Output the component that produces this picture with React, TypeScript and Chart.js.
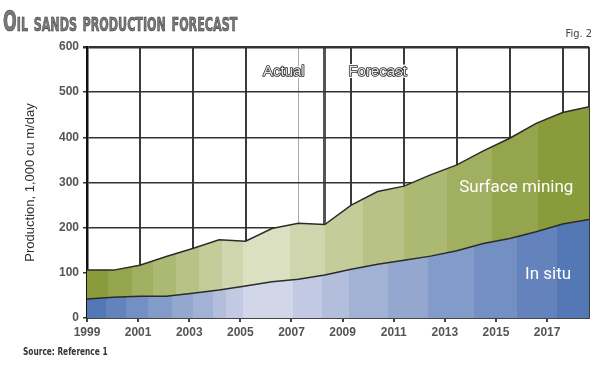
import React, { useEffect, useRef } from 'react';
import { Chart, registerables } from 'chart.js';

Chart.register(...registerables);

// ---- data ----
const years = [1999, 2000, 2001, 2002, 2003, 2004, 2005, 2006, 2007, 2008, 2009, 2010, 2011, 2012, 2013, 2014, 2015, 2016, 2017, 2018];
const inSitu = [42, 46, 48, 48, 55, 62, 71, 80, 86, 95, 108, 119, 128, 137, 149, 165, 176, 191, 208, 218];
const surfaceMining = [64, 60, 69, 88, 99, 111, 99, 118, 124, 112, 142, 161, 164, 180, 190, 205, 222, 240, 247, 250];
const xTickLabels = [1999, 2001, 2003, 2005, 2007, 2009, 2011, 2013, 2015, 2017];
const gridYears = [1999, 2001, 2003, 2005, 2007, 2008, 2009, 2011, 2013, 2015, 2017, 2018];
const lastActualGrid = 2007;
const forecastStart = 2008;
const yMax = 600;
const yStep = 100;

// text annotations (anchored in data coordinates)
const notes = [
  { text: 'Actual', x: 2006.45, y: 545, kind: 'outline' },
  { text: 'Forecast', x: 2010.0, y: 545, kind: 'outline' },
  { text: 'Surface mining', x: 2015.25, y: 288, kind: 'white' },
  { text: 'In situ', x: 2016.45, y: 95, kind: 'white' },
];

// ---- styles ----
const greenEdges = [0.042, 0.09, 0.131, 0.177, 0.223, 0.269, 0.311, 0.404, 0.474, 0.55, 0.631, 0.717, 0.807, 0.898];
const greenPeak = 7;
const greenDark = [137, 155, 58];
const greenLight = [219, 224, 192];
const blueEdges = [0.038, 0.078, 0.122, 0.169, 0.211, 0.251, 0.277, 0.311, 0.41, 0.468, 0.522, 0.6, 0.679, 0.771, 0.857, 0.936];
const bluePeak = 8;
const blueDark = [84, 119, 182];
const blueLight = [209, 214, 232];

function mix(a: number[], b: number[], t: number) {
  const c = a.map((v, i) => Math.round(v + (b[i] - v) * t));
  return `rgb(${c[0]},${c[1]},${c[2]})`;
}

function bandFill(edges: number[], peak: number, dark: number[], light: number[]) {
  return (context: any) => {
    const chart = context.chart;
    const area = chart.chartArea;
    if (!area) return 'rgba(0,0,0,0)';
    const g = chart.ctx.createLinearGradient(area.left, 0, area.right, 0);
    const n = edges.length + 1;
    for (let b = 0; b < n; b++) {
      const t = b <= peak ? b / peak : (n - 1 - b) / (n - 1 - peak);
      const col = mix(dark, light, t);
      const s = b === 0 ? 0 : edges[b - 1];
      const e = b === n - 1 ? 1 : edges[b];
      g.addColorStop(s, col);
      g.addColorStop(e, col);
    }
    return g;
  };
}

const notesPlugin = {
  id: 'notes',
  afterDatasetsDraw(chart: any) {
    const { ctx } = chart;
    const xs = chart.scales.x;
    const ys = chart.scales.y;
    ctx.save();
    ctx.textAlign = 'center';
    ctx.textBaseline = 'middle';
    for (const n of notes) {
      const px = xs.getPixelForValue(n.x);
      const py = ys.getPixelForValue(n.y);
      if (n.kind === 'outline') {
        ctx.font = '15px "Liberation Sans", Arial, sans-serif';
        ctx.lineJoin = 'round';
        ctx.strokeStyle = '#ffffff';
        ctx.lineWidth = 4;
        ctx.strokeText(n.text, px, py);
        ctx.strokeStyle = '#2a2a2a';
        ctx.lineWidth = 1.6;
        ctx.strokeText(n.text, px, py);
        ctx.fillStyle = '#e6e6e6';
        ctx.fillText(n.text, px, py);
      } else {
        ctx.font = '17px Roboto, "Noto Sans", sans-serif';
        ctx.fillStyle = '#ffffff';
        ctx.fillText(n.text, px, py);
      }
    }
    ctx.restore();
  },
};

export default function App() {
  const canvasRef = useRef<HTMLCanvasElement | null>(null);

  useEffect(() => {
    const canvas = canvasRef.current;
    if (!canvas) return;
    const tickFont = { family: '"Liberation Sans", Arial, sans-serif', size: 12, weight: 'bold' as const };
    const chart = new Chart(canvas, {
      type: 'line',
      data: {
        datasets: [
          {
            label: 'In situ',
            data: years.map((yr, i) => ({ x: yr, y: inSitu[i] })),
            fill: 'origin',
            backgroundColor: bandFill(blueEdges, bluePeak, blueDark, blueLight),
            borderColor: '#2b2b2b',
            borderWidth: 1.5,
            pointRadius: 0,
            tension: 0,
          },
          {
            label: 'Surface mining',
            data: years.map((yr, i) => ({ x: yr, y: surfaceMining[i] })),
            fill: '-1',
            backgroundColor: bandFill(greenEdges, greenPeak, greenDark, greenLight),
            borderColor: '#2b2b2b',
            borderWidth: 1.5,
            pointRadius: 0,
            tension: 0,
          },
        ],
      },
      options: {
        animation: false,
        responsive: false,
        devicePixelRatio: 1,
        layout: { padding: { left: 17, right: 11, top: 47, bottom: 17 } },
        plugins: { legend: { display: false }, tooltip: { enabled: false }, title: { display: false } },
        scales: {
          x: {
            type: 'linear',
            position: 'bottom',
            min: years[0],
            max: years[years.length - 1],
            weight: 0,
            afterBuildTicks: (s: any) => {
              s.ticks = gridYears.map((v) => ({ value: v }));
            },
            afterFit: (s: any) => {
              s.height = 0;
            },
            ticks: { display: false },
            border: { display: true, color: '#444', width: 2 },
            grid: {
              drawTicks: false,
              color: (c: any) =>
                c.tick && c.tick.value === lastActualGrid ? '#aaaaaa' : c.tick && c.tick.value === forecastStart ? '#555555' : '#3a3a3a',
              lineWidth: (c: any) =>
                c.tick && c.tick.value === lastActualGrid ? 1 : c.tick && c.tick.value === forecastStart ? 3 : 2,
            },
          },
          xt: {
            type: 'linear',
            position: 'bottom',
            min: 1999,
            max: 2018.64,
            weight: 1,
            afterBuildTicks: (s: any) => {
              s.ticks = xTickLabels.map((v) => ({ value: v }));
            },
            afterFit: (s: any) => {
              s.height = 30;
            },
            ticks: {
              callback: (v: any) => String(v),
              font: tickFont,
              color: '#555',
              padding: 3,
              maxRotation: 0,
              autoSkip: false,
            },
            border: { display: false },
            grid: { drawOnChartArea: false, drawTicks: true, tickLength: 4, color: '#444', lineWidth: 2 },
          },
          y: {
            stacked: true,
            min: 0,
            max: yMax,
            afterFit: (s: any) => {
              s.width = 70;
            },
            ticks: { stepSize: yStep, font: tickFont, color: '#555', padding: 4 },
            border: { display: true, color: '#111', width: 2.5 },
            grid: {
              color: '#333',
              lineWidth: (c: any) => (c.tick && c.tick.value === yMax ? 2.5 : 1.5),
              tickLength: 4,
            },
            title: {
              display: true,
              text: 'Production, 1,000 cu m/day',
              font: { family: '"Liberation Sans", Arial, sans-serif', size: 13 },
              color: '#333',
              padding: { top: 6, bottom: 0 },
            },
          },
        },
      },
      plugins: [notesPlugin],
    } as any);
    return () => chart.destroy();
  }, []);

  return (
    <div style={{ position: 'absolute', left: 0, top: 0, width: 600, height: 365, background: '#fff', overflow: 'hidden' }}>
      <canvas ref={canvasRef} width={600} height={365} style={{ position: 'absolute', left: 0, top: 0 }} />
      <div
        style={{
          position: 'absolute',
          left: 3,
          top: 6,
          fontFamily: '"DejaVu Sans Condensed", "DejaVu Sans", sans-serif',
          fontWeight: 'bold',
          fontVariant: 'small-caps',
          fontSize: 29,
          lineHeight: '30px',
          color: '#7a7a7a',
          WebkitTextStroke: '0.6px #333',
          whiteSpace: 'nowrap',
          transform: 'scaleX(0.62)',
          transformOrigin: 'left top',
        }}
      >
        Oil sands production forecast
      </div>
      <div
        style={{
          position: 'absolute',
          right: 8,
          top: 28,
          fontFamily: '"DejaVu Sans Condensed", "DejaVu Sans", sans-serif',
          fontSize: 11,
          lineHeight: '12px',
          color: '#444',
          whiteSpace: 'nowrap',
        }}
      >
        Fig. 2
      </div>
      <div
        style={{
          position: 'absolute',
          left: 23,
          top: 346,
          fontFamily: '"DejaVu Sans Condensed", "DejaVu Sans", sans-serif',
          fontWeight: 'bold',
          fontSize: 11,
          lineHeight: '12px',
          color: '#333',
          whiteSpace: 'nowrap',
          transform: 'scaleX(0.75)',
          transformOrigin: 'left top',
        }}
      >
        Source: Reference 1
      </div>
    </div>
  );
}
